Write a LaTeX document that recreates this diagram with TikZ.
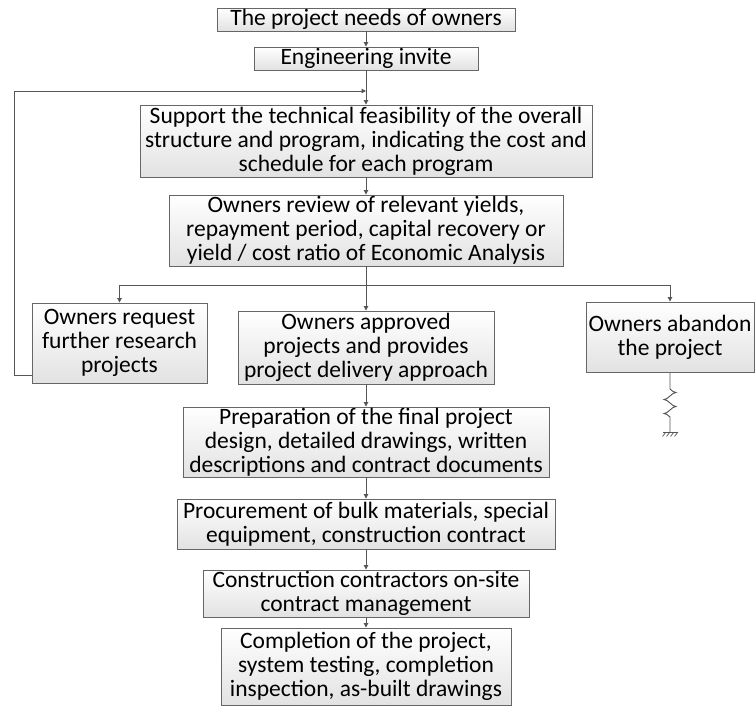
\documentclass[tikz,border=0pt]{standalone}
\usepackage{fontspec}
\setmainfont{Carlito}
\usetikzlibrary{arrows.meta}
\definecolor{boxline}{HTML}{666666}
\definecolor{boxshade}{HTML}{E2E2E2}
\definecolor{linkgray}{HTML}{555555}
\begin{document}
\begin{tikzpicture}[x=1pt,y=-1pt,
  box/.style={draw=boxline, line width=0.9pt, top color=white, bottom color=boxshade,
    inner sep=0pt, align=center, font=\fontsize{23.5}{24}\selectfont},
  link/.style={draw=linkgray, line width=0.9pt, -{Triangle[length=4.5pt,width=4.5pt]}},
  wire/.style={draw=linkgray, line width=0.9pt}]
\useasboundingbox (0,0) rectangle (756,706);

% main column of steps
\node[box, minimum width=298pt, minimum height=23pt] (needs) at (366,19.5) {The project needs of owners};
\node[box, minimum width=224pt, minimum height=23pt] (invite) at (366,58.5) {Engineering invite};
\node[box, minimum width=452pt, minimum height=72pt] (support) at (366,141)
  {Support the technical feasibility of the overall\\structure and program, indicating the cost and\\schedule for each program};
\node[box, minimum width=394pt, minimum height=71pt] (review) at (366,230.5)
  {Owners review of relevant yields,\\repayment period, capital recovery or\\yield / cost ratio of Economic Analysis};
\node[box, minimum width=175pt, minimum height=80pt] (research) at (119.5,343)
  {Owners request\\further research\\projects};
\node[box, minimum width=256pt, minimum height=73pt] (approved) at (366,347.5)
  {Owners approved\\projects and provides\\project delivery approach};
\node[box, minimum width=168pt, minimum height=70pt] (abandon) at (670,337)
  {Owners abandon\\the project};
\node[box, minimum width=366pt, minimum height=70pt] (design) at (366,442)
  {Preparation of the final project\\design, detailed drawings, written\\descriptions and contract documents};
\node[box, minimum width=378pt, minimum height=50pt] (procure) at (366,524)
  {Procurement of bulk materials, special\\equipment, construction contract};
\node[box, minimum width=326pt, minimum height=47pt] (manage) at (366,593.5)
  {Construction contractors on-site\\contract management};
\node[box, minimum width=290pt, minimum height=77pt] (complete) at (366,666.5)
  {Completion of the project,\\system testing, completion\\inspection, as-built drawings};

% straight links
\draw[link] (needs) -- (invite);
\draw[link] (invite) -- (support);
\draw[link] (support) -- (review);
\draw[link] (review) -- (approved);
\draw[link] (approved) -- (design);
\draw[link] (design) -- (procure);
\draw[link] (procure) -- (manage);
\draw[link] (manage) -- (complete);

% three-way fork below the review
\coordinate (fork) at (366,285);
\draw[link] (fork) -| (research.north);
\draw[link] (fork) -| (abandon.north);

% feedback loop back to the feasibility study
\coordinate (loopin) at (366,91);
\draw[link] ([yshift=-32pt]research.west) -- (14,375) -- (14,91) -- (loopin);

% terminated branch: spring and earth
\draw[wire] (abandon.south) -- (670,389)
  sin (676,392.5) cos (670,396) sin (664,399.5) cos (670,403)
  sin (676,406.5) cos (670,410) sin (664,413.5) cos (670,417)
  -- (670,432);
\draw[wire] (663,432) -- (677,432);
\foreach \gx in {666,670,674,678}
  \draw[wire, line width=0.7pt] (\gx,432) -- ++(-3.5,4.5);
\end{tikzpicture}
\end{document}
